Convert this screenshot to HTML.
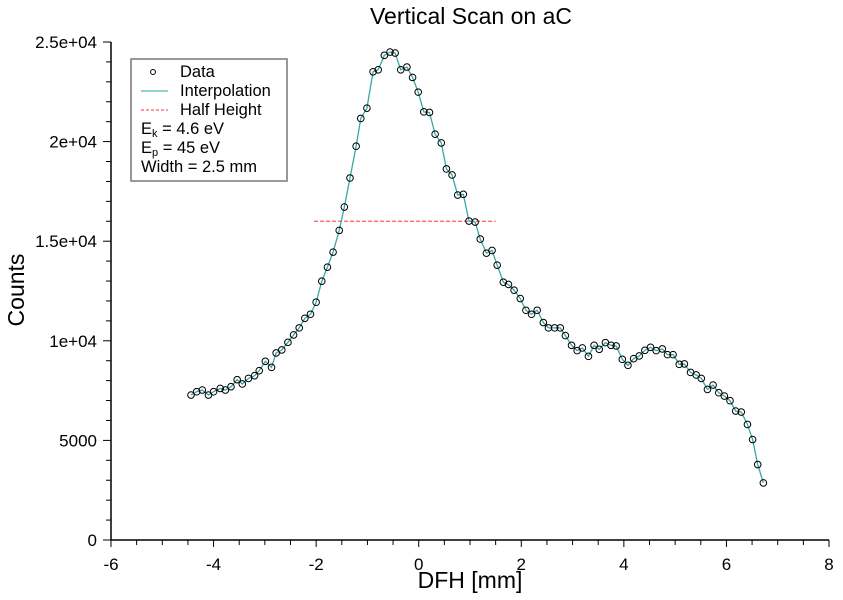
<!DOCTYPE html>
<html><head><meta charset="utf-8"><style>
body{margin:0;background:#fff}
svg{display:block;font-family:"Liberation Sans",sans-serif}
</style></head><body>
<svg id="chart" width="843" height="600">
<text x="471" y="24" font-size="23" text-anchor="middle">Vertical Scan on aC</text>
<text x="470" y="588" font-size="23" text-anchor="middle">DFH [mm]</text>
<text transform="translate(24,290) rotate(-90)" font-size="23" text-anchor="middle">Counts</text>
<g id="axes"></g>
<g id="plot"></g>
<g>
<rect x="131" y="59" width="156" height="122" fill="#fff" stroke="#777" stroke-width="1.5"/>
<circle cx="153" cy="72" r="2.5" fill="none" stroke="#000"/>
<text x="180" y="77" font-size="16.5">Data</text>
<line x1="141" y1="91" x2="168" y2="91" stroke="#6cc0c0" stroke-width="1.5"/>
<text x="180" y="96" font-size="16.5">Interpolation</text>
<line x1="141" y1="110" x2="168" y2="110" stroke="#f77" stroke-width="1.5" stroke-dasharray="3,2"/>
<text x="180" y="115" font-size="16.5">Half Height</text>
<text x="141" y="134" font-size="16.5">E<tspan font-size="11" dy="3">k</tspan><tspan dy="-3"> = 4.6 eV</tspan></text>
<text x="141" y="153" font-size="16.5">E<tspan font-size="11" dy="3">p</tspan><tspan dy="-3"> = 45 eV</tspan></text>
<text x="141" y="172" font-size="16.5">Width = 2.5 mm</text>
</g>
</svg>
<script>
const xData=[-4.44,-4.33,-4.22,-4.10,-4.00,-3.87,-3.77,-3.66,-3.54,-3.44,-3.32,-3.20,-3.11,-2.99,-2.87,-2.78,-2.67,-2.55,-2.44,-2.33,-2.22,-2.11,-2.00,-1.89,-1.78,-1.67,-1.55,-1.45,-1.34,-1.22,-1.13,-1.01,-0.89,-0.79,-0.67,-0.56,-0.46,-0.35,-0.23,-0.12,-0.01,0.10,0.21,0.32,0.44,0.54,0.65,0.76,0.87,0.98,1.10,1.20,1.32,1.43,1.53,1.65,1.75,1.86,1.98,2.09,2.20,2.31,2.43,2.53,2.65,2.76,2.86,2.98,3.09,3.19,3.31,3.42,3.52,3.64,3.75,3.85,3.97,4.08,4.19,4.30,4.41,4.52,4.63,4.75,4.85,4.96,5.08,5.18,5.30,5.41,5.51,5.63,5.74,5.85,5.96,6.07,6.18,6.29,6.41,6.51,6.61,6.72];
const counts=[7278,7444,7530,7278,7444,7610,7530,7696,8048,7832,8113,8249,8501,8968,8667,9391,9542,9924,10296,10649,11131,11333,11936,12992,13697,14451,15543,16715,18173,19768,21161,21679,23505,23606,24330,24496,24446,23606,23742,23224,22484,21493,21463,20372,19934,18626,18324,17318,17354,16010,15960,15105,14401,14537,13797,12942,12827,12540,12122,11534,11333,11534,10915,10649,10649,10649,10261,9773,9507,9643,9220,9773,9572,9909,9773,9743,9069,8767,9104,9240,9522,9673,9507,9592,9306,9306,8818,8838,8415,8284,8113,7560,7781,7394,7228,6992,6474,6423,5800,5045,3788,2867];
const halfHeight=[-2.04,1.5,16000];
const xTicks=[-6,-4,-2,0,2,4,6,8];
const yTicks=[0,5000,10000,15000,20000,25000];
const yTickLabels=["0","5000","1e+04","1.5e+04","2e+04","2.5e+04"];
const X=v=>111+(v+6)*(829-111)/14;
const Y=v=>540-v*(540-42)/25000;
const NS="http://www.w3.org/2000/svg";
function mk(tag,attrs,parent){const e=document.createElementNS(NS,tag);for(const k in attrs)e.setAttribute(k,attrs[k]);parent.appendChild(e);return e;}
const axes=document.getElementById('axes'),plot=document.getElementById('plot');
let a=mk('line',{x1:X(-6),y1:Y(0),x2:X(8),y2:Y(0),stroke:'#000','stroke-width':1.5},axes);


a=mk('line',{x1:X(-6),y1:Y(0),x2:X(-6),y2:Y(25000),stroke:'#000','stroke-width':1.5},axes);


for(let v=-6;v<=8.001;v+=0.5){const maj=Math.abs(v-Math.round(v/2)*2)<1e-6;
 const t=mk('line',{x1:X(v),y1:Y(0),x2:X(v),y2:Y(0)+(maj?7:5),stroke:'#000','stroke-width':1},axes);
 
 }
xTicks.forEach(v=>{const t=mk('text',{x:X(v),y:570,'font-size':17,'text-anchor':'middle'},axes);t.textContent=v;
 
 });
for(let v=0;v<=25000;v+=1000){const maj=v%5000===0;
 const t=mk('line',{x1:X(-6),y1:Y(v),x2:X(-6)-(maj?8:5),y2:Y(v),stroke:'#000','stroke-width':1},axes);
 
 }
yTicks.forEach((v,i)=>{const t=mk('text',{x:97,y:Y(v)+6,'font-size':17,'text-anchor':'end'},axes);t.textContent=yTickLabels[i];
 
 });
const hl=mk('line',{x1:X(halfHeight[0]),y1:Y(halfHeight[2]),x2:X(halfHeight[1]),y2:Y(halfHeight[2]),stroke:'#f55','stroke-width':1.3,'stroke-dasharray':'4,2'},plot);


const pl=mk('polyline',{points:xData.map((x,i)=>X(x)+','+Y(counts[i])).join(' '),fill:'none',stroke:'#3aa6a6','stroke-width':1.3},plot);


xData.forEach((x,i)=>{const c=mk('circle',{cx:X(x),cy:Y(counts[i]),r:3.3,fill:'none',stroke:'#000','stroke-width':1},plot);
 
 });
</script>
</body></html>
